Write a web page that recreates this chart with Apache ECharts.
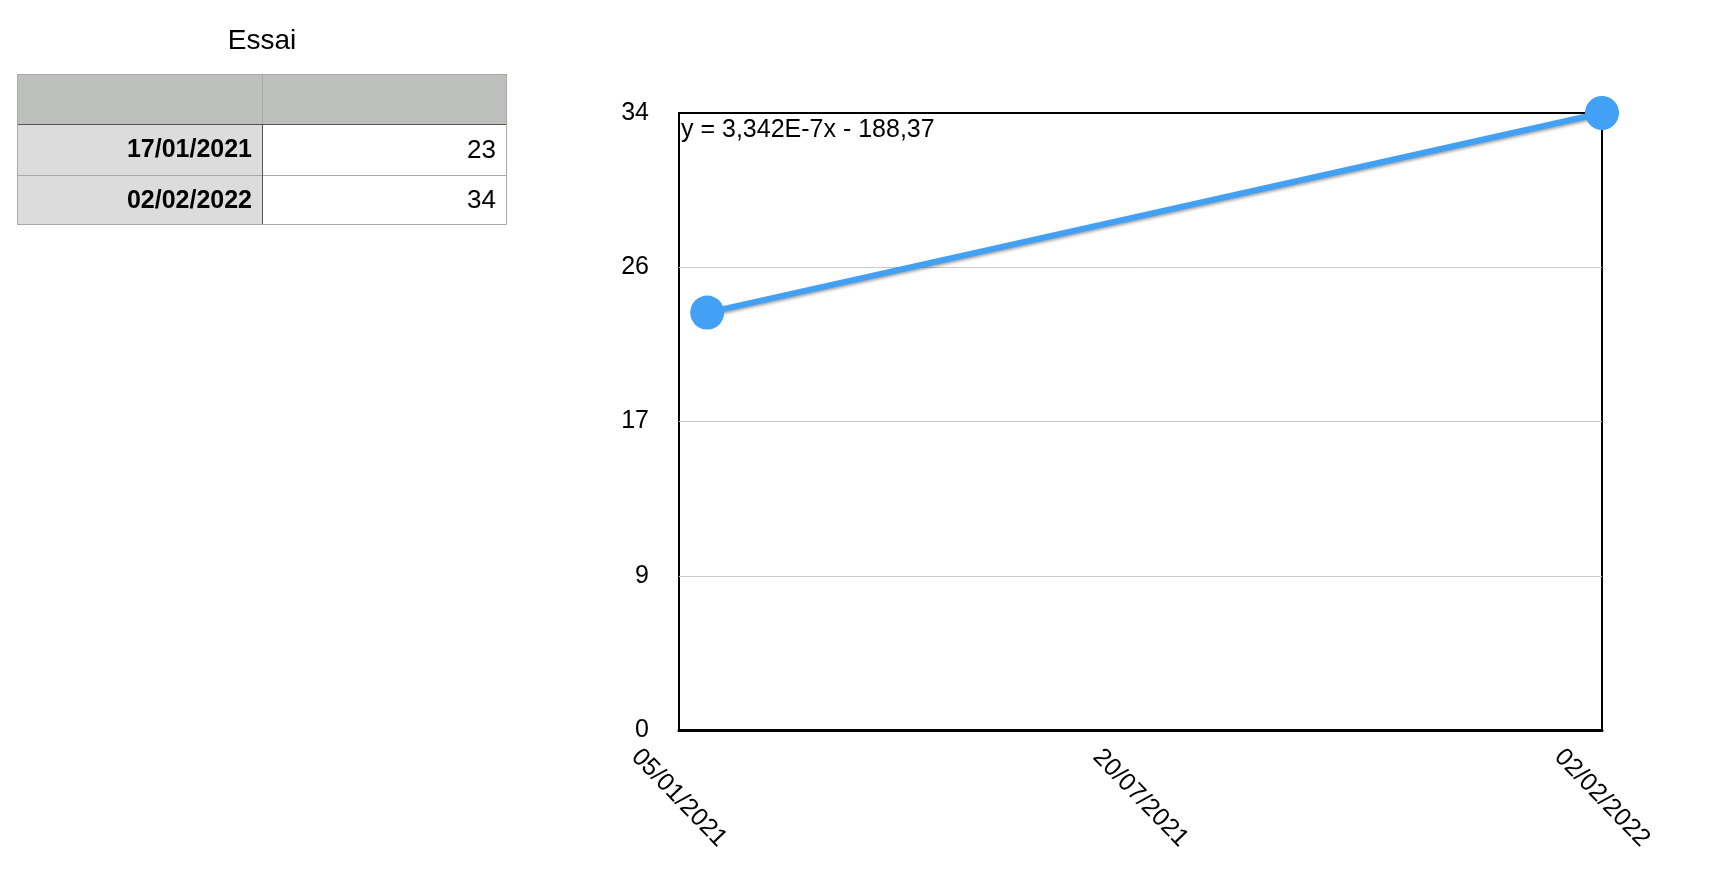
<!DOCTYPE html>
<html>
<head>
<meta charset="utf-8">
<script src="https://cdn.jsdelivr.net/npm/echarts@6/dist/echarts.min.js"></script>
<style>
  html, body { margin: 0; padding: 0; background: #fff; }
  #chart { width: 1726px; height: 870px; }
</style>
</head>
<body>
<div id="chart"></div>
<script>
// donnees du tableau "Essai"
const titre = 'Essai'
const dates = ['17/01/2021', '02/02/2022']
const valeurs = [23, 34]
const equation = 'y = 3,342E-7x - 188,37'
// bornes des axes
const axeXDebut = '05/01/2021'
const axeXFin = '02/02/2022'
const axeYMax = 34
const nbGraduationsY = 4

const JOUR = 86400000
const police = '"Liberation Sans", Arial, Helvetica, sans-serif'

function versMs (s) {
  let p = s.split('/')
  return Date.UTC(+p[2], +p[1] - 1, +p[0])
}
function versTexte (ms) {
  let d = new Date(ms)
  let jj = String(d.getUTCDate()).padStart(2, '0')
  let mm = String(d.getUTCMonth() + 1).padStart(2, '0')
  return jj + '/' + mm + '/' + d.getUTCFullYear()
}

const debut = versMs(axeXDebut)
const dureeJours = (versMs(axeXFin) - debut) / JOUR
// x en jours depuis le debut de l'axe
const points = dates.map((d, i) => [(versMs(d) - debut) / JOUR, valeurs[i]])

// tableau dessine avec des elements graphic
const tabX = 17, tabCol = 262, tabFin = 507
const lignesY = [74, 124, 175, 225]
let tableau = []
tableau.push({ type: 'text', style: { text: titre, x: 262, y: 41, align: 'center', verticalAlign: 'middle', font: '28px ' + police, fill: '#000' } })
tableau.push({ type: 'rect', shape: { x: tabX, y: lignesY[0], width: tabFin - tabX, height: lignesY[1] - lignesY[0] }, style: { fill: '#bec0be' } })
dates.forEach((d, i) => {
  let y0 = lignesY[i + 1], y1 = lignesY[i + 2]
  tableau.push({ type: 'rect', shape: { x: tabX, y: y0, width: tabCol - tabX, height: y1 - y0 }, style: { fill: '#dcdcdc' } })
  tableau.push({ type: 'text', style: { text: d, x: tabCol - 10, y: (y0 + y1) / 2 + 1, align: 'right', verticalAlign: 'middle', font: 'bold 25px ' + police, fill: '#000' } })
  tableau.push({ type: 'text', style: { text: String(valeurs[i]), x: tabFin - 11, y: (y0 + y1) / 2 + 1, align: 'right', verticalAlign: 'middle', font: '26px ' + police, fill: '#000' } })
})
// traits
tableau.push({ type: 'line', shape: { x1: tabX, y1: lignesY[2] + 0.5, x2: tabFin, y2: lignesY[2] + 0.5 }, style: { stroke: '#a8a8a8', lineWidth: 1 } })
tableau.push({ type: 'line', shape: { x1: tabCol + 0.5, y1: lignesY[0], x2: tabCol + 0.5, y2: lignesY[1] }, style: { stroke: '#a8a8a8', lineWidth: 1 } })
tableau.push({ type: 'line', shape: { x1: tabCol + 0.5, y1: lignesY[1], x2: tabCol + 0.5, y2: lignesY[3] }, style: { stroke: '#555', lineWidth: 1 } })
tableau.push({ type: 'line', shape: { x1: tabX, y1: lignesY[1] + 0.5, x2: tabFin, y2: lignesY[1] + 0.5 }, style: { stroke: '#555', lineWidth: 1 } })
tableau.push({ type: 'rect', shape: { x: tabX + 0.5, y: lignesY[0] + 0.5, width: tabFin - tabX - 1, height: lignesY[3] - lignesY[0] - 1 }, style: { fill: 'none', stroke: '#a8a8a8', lineWidth: 1 } })

let chart = echarts.init(document.getElementById('chart'))
chart.setOption({
  backgroundColor: '#fff',
  animation: false,
  grid: {
    left: 679,
    top: 113,
    right: 124,
    bottom: 140,
    show: true,
    borderColor: '#000',
    borderWidth: 2,
    containLabel: false
  },
  graphic: tableau.concat([
    { type: 'text', z: 10, style: { text: equation, x: 681, y: 118, font: '25px ' + police, fill: '#000' } }
  ]),
  xAxis: {
    type: 'value',
    min: 0,
    max: dureeJours,
    interval: dureeJours / 2,
    axisLine: { show: true, lineStyle: { color: '#000', width: 3 } },
    axisTick: { show: false },
    splitLine: { show: false },
    axisLabel: {
      rotate: -46,
      align: 'center',
      verticalAlign: 'middle',
      margin: 68,
      color: '#000',
      fontSize: 25,
      fontFamily: police,
      showMinLabel: true,
      showMaxLabel: true,
      formatter: v => versTexte(debut + v * JOUR)
    }
  },
  yAxis: {
    type: 'value',
    min: 0,
    max: axeYMax,
    interval: axeYMax / nbGraduationsY,
    axisLine: { show: false },
    axisTick: { show: false },
    splitLine: {
      show: true,
      showMinLine: false,
      showMaxLine: false,
      lineStyle: { color: '#c8c8c8', width: 1 }
    },
    axisLabel: {
      margin: 30,
      padding: [4, 0, 0, 0],
      color: '#000',
      fontSize: 25,
      fontFamily: police,
      formatter: v => String(Math.round(v))
    }
  },
  series: [
    {
      type: 'line',
      data: points,
      clip: false,
      symbol: 'circle',
      symbolSize: 34,
      itemStyle: { color: '#42a0f5' },
      lineStyle: {
        color: '#42a0f5',
        width: 6,
        shadowColor: 'rgba(0,0,0,0.35)',
        shadowBlur: 3,
        shadowOffsetY: 2
      },
      z: 3
    }
  ]
})
</script>
</body>
</html>
